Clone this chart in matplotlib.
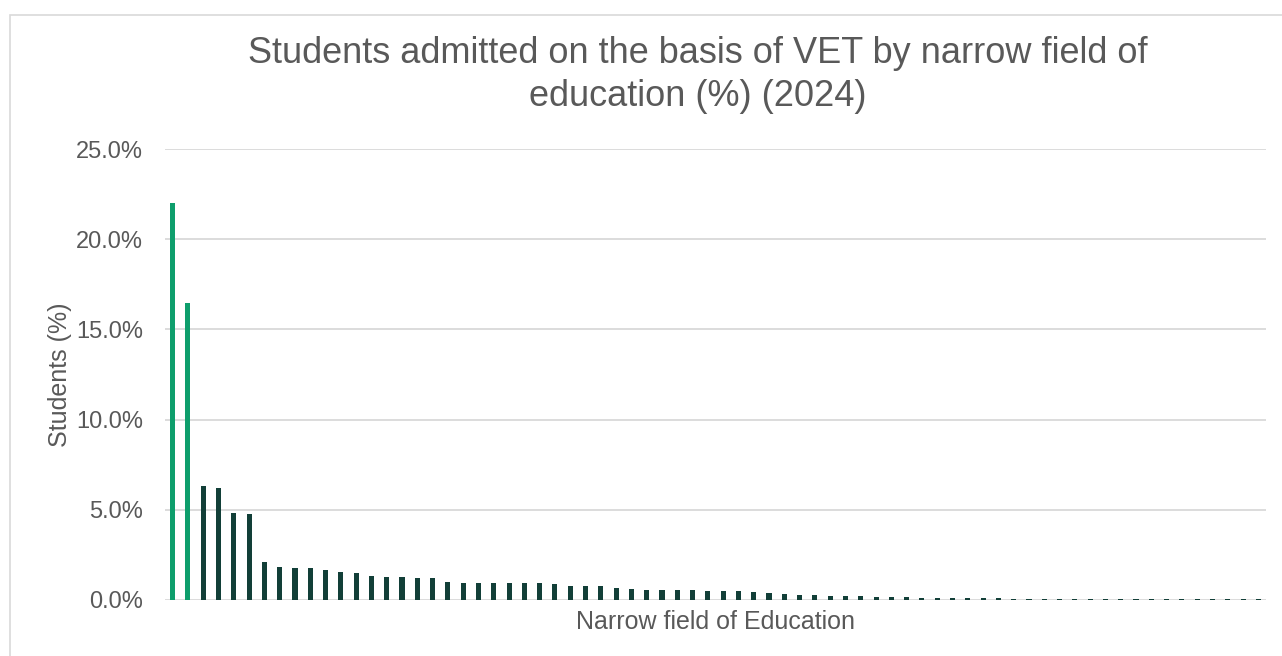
import matplotlib.pyplot as plt
from matplotlib.patches import Rectangle
from matplotlib.ticker import FuncFormatter

plt.rcParams['font.family'] = ['Liberation Sans', 'DejaVu Sans']

# share of students (%) per narrow field, sorted descending (72 fields)
values = [22.0, 16.45, 6.34, 6.19, 4.84, 4.78, 2.09, 1.85, 1.75, 1.75,
          1.66, 1.57, 1.51, 1.33, 1.29, 1.29, 1.20, 1.20, 1.02, 0.96,
          0.96, 0.96, 0.92, 0.92, 0.92, 0.89, 0.79, 0.79, 0.76, 0.65,
          0.63, 0.54, 0.54, 0.54, 0.54, 0.50, 0.48, 0.48, 0.44, 0.39,
          0.33, 0.30, 0.28, 0.24, 0.20, 0.22, 0.15, 0.15, 0.15, 0.13,
          0.13, 0.13, 0.09, 0.09, 0.09, 0.05, 0.05, 0.05, 0.05, 0.05,
          0.05, 0.05, 0.05, 0.03, 0.03, 0.03, 0.03, 0.03, 0.03, 0.03,
          0.03, 0.03]
highlight = 2  # first two fields shown in light green

green = '#0e9e6c'
dark = '#123f38'
grey = '#595959'

fig = plt.figure(figsize=(12.82, 6.56), dpi=100)
fig.patches.append(Rectangle((10 / 1282, -0.1), 1.2, 1 - 15 / 656 + 0.1,
                             transform=fig.transFigure, fill=False,
                             edgecolor='#d9d9d9', linewidth=1.2))

ax = fig.add_axes([165 / 1282, 1 - 600 / 656, 1101 / 1282, 451 / 656])
xs = list(range(len(values)))
colors = [green if i < highlight else dark for i in xs]
ax.bar(xs, values, width=0.33, color=colors, zorder=3)

ax.set_xlim(-0.5, len(values) - 0.5)
ax.set_ylim(0, 25)
ax.set_yticks([0, 5, 10, 15, 20, 25])
ax.yaxis.set_major_formatter(FuncFormatter(lambda v, p: f'{v:.1f}%'))
ax.set_xticks([])
ax.grid(axis='y', color='#d9d9d9', linewidth=1.3, zorder=0)
for s in ax.spines.values():
    s.set_visible(False)
ax.tick_params(axis='y', length=0, labelsize=17, labelcolor=grey, pad=16)

ax.set_ylabel('Students (%)', fontsize=18, color=grey, labelpad=3)
ax.set_xlabel('Narrow field of Education', fontsize=18, color=grey, labelpad=7)

fig.text(0.544, 1 - 75 / 656,
         'Students admitted on the basis of VET by narrow field of\neducation (%) (2024)',
         ha='center', va='center', fontsize=26, color=grey, linespacing=1.3)

fig.savefig('out.png', dpi=100)
